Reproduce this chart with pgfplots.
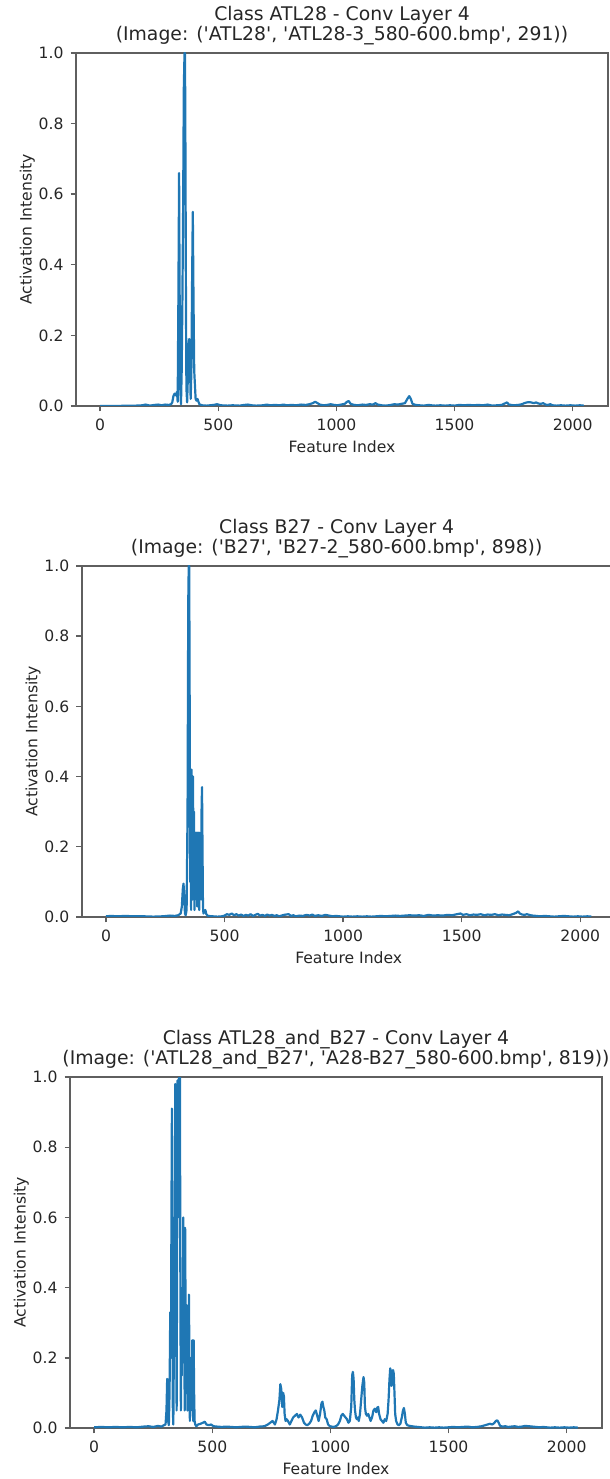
\documentclass[border=0pt]{standalone}
\usepackage{pgfplots}
\pgfplotsset{compat=1.18}
\usepackage{fontspec}
\setmainfont{DejaVu Sans}
\newfontfamily\dv{DejaVu Sans}
\definecolor{czero}{RGB}{31,119,180}
\definecolor{spine}{RGB}{95,95,95}
\pgfplotsset{
  myax/.style={
    scale only axis,
    anchor=south west,
    xmin=-102.35, xmax=2149.35, ymin=0, ymax=1,
    axis line style={draw=spine, line width=0.8pt},
    every tick/.style={draw=spine, line width=0.7pt},
    major tick length=2.7pt,
    tick align=outside,
    xtick pos=bottom, ytick pos=left,
    xtick={0,500,1000,1500,2000},
    ytick={0,0.2,0.4,0.6,0.8,1.0},
    scaled x ticks=false, scaled y ticks=false,
    /pgf/number format/assume math mode=true,
    /pgf/number format/1000 sep={},
    yticklabel style={/pgf/number format/.cd, fixed, fixed zerofill, precision=1},
    tick label style={font=\fontsize{7.8}{9}\selectfont, text=black!85},
    label style={font=\fontsize{7.8}{9}\selectfont, text=black!85},
    xlabel={Feature Index},
    ylabel={Activation Intensity},
    xlabel style={yshift=1.5pt},
    ylabel style={yshift=-5pt},
    title style={font=\dv\fontsize{9.4}{10}\selectfont, text=black!85, align=center, at={(0.5,1)}, anchor=south, inner sep=0pt, yshift=-2pt},
    clip=true,
  },
  myline/.style={color=czero, line width=1.1pt, line join=round, mark=none},
}
\begin{document}
\begin{tikzpicture}
\useasboundingbox (0,0) rectangle (305pt,739.5pt);
\begin{axis}[myax, at={(38pt,536.5pt)}, width=266pt, height=176.5pt,
  title={Class ATL28 - Conv Layer 4\\(Image: (\dv'ATL28', 'ATL28-3\_580-600.bmp', 291))}]
\addplot[myline] table {
0 0
50 0
100 0.0005
150 0.001
180 0.002
190 0.004
200 0.003
210 0.001
230 0.003
245 0.004
260 0.002
275 0.004
290 0.003
300 0.005
305 0.01
310 0.028
315 0.035
320 0.03
325 0.04
328 0.012
331 0.3
334 0.66
336 0.35
339 0.05
342 0.005
345 0.1
348 0.3
351 0.55
354 0.9
357 1.0
359 1.0
361 0.7
363 0.3
365 0.05
368 0.01
371 0.08
374 0.17
377 0.19
380 0.12
383 0.02
386 0.1
389 0.35
392 0.55
395 0.3
398 0.1
401 0.06
404 0.02
408 0.015
412 0.02
416 0.012
420 0.005
430 0.002
450 0.001
480 0.003
495 0.005
510 0.002
540 0.001
560 0.002
590 0.001
610 0.003
625 0.004
640 0.002
660 0.001
690 0.002
705 0.004
720 0.002
740 0.003
760 0.002
775 0.004
790 0.002
810 0.003
830 0.002
850 0.004
870 0.003
885 0.005
900 0.008
910 0.012
920 0.008
930 0.004
945 0.002
960 0.003
975 0.005
990 0.003
1005 0.002
1020 0.004
1035 0.006
1045 0.012
1052 0.014
1060 0.006
1075 0.003
1090 0.002
1110 0.004
1125 0.003
1140 0.005
1155 0.004
1165 0.008
1175 0.004
1190 0.002
1210 0.001
1230 0.003
1245 0.005
1260 0.004
1275 0.006
1290 0.008
1300 0.02
1308 0.028
1315 0.02
1322 0.006
1335 0.003
1350 0.002
1370 0.001
1390 0.003
1400 0.002
1420 0.001
1440 0.002
1460 0.001
1480 0.002
1500 0.001
1520 0.003
1540 0.002
1560 0.003
1580 0.002
1600 0.003
1620 0.002
1640 0.004
1660 0.001
1680 0.002
1700 0.003
1715 0.008
1722 0.01
1730 0.004
1750 0.002
1770 0.003
1785 0.005
1795 0.008
1805 0.01
1815 0.011
1825 0.01
1835 0.008
1845 0.01
1855 0.007
1865 0.006
1875 0.008
1885 0.004
1895 0.003
1905 0.005
1915 0.002
1930 0.001
1950 0.002
1970 0.001
1990 0.002
2010 0.001
2030 0.002
2047 0.001
};
\end{axis}
\begin{axis}[myax, at={(40.85pt,281pt)}, width=267pt, height=175.5pt,
  title style={xshift=-6pt},
  title={Class B27 - Conv Layer 4\\(Image: (\dv'B27', 'B27-2\_580-600.bmp', 898))}]
\addplot[myline] table {
0 0.002
20 0.003
50 0.002
80 0.003
120 0.002
160 0.002
200 0.001
240 0.002
270 0.004
290 0.003
305 0.005
315 0.01
320 0.03
324 0.08
327 0.095
330 0.06
333 0.01
336 0.005
340 0.02
344 0.3
347 0.9
349 1.0
351 1.0
353 0.6
355 0.1
357 0.33
359 0.02
361 0.42
363 0.3
365 0.05
367 0.4
369 0.1
371 0.3
373 0.02
375 0.24
377 0.05
379 0.24
381 0.1
383 0.24
385 0.03
387 0.24
389 0.15
391 0.24
393 0.02
395 0.24
397 0.1
399 0.2
401 0.05
403 0.3
405 0.37
407 0.2
409 0.03
411 0.01
415 0.015
419 0.02
423 0.008
430 0.003
450 0.002
470 0.001
490 0.002
500 0.004
510 0.008
520 0.006
530 0.01
540 0.005
550 0.008
560 0.004
570 0.007
580 0.003
590 0.006
600 0.004
610 0.008
620 0.003
630 0.006
640 0.009
650 0.004
660 0.006
670 0.003
680 0.007
690 0.004
700 0.006
710 0.003
720 0.005
730 0.002
740 0.004
750 0.006
760 0.007
770 0.008
780 0.003
790 0.005
800 0.002
815 0.004
830 0.003
845 0.006
860 0.004
870 0.007
880 0.003
895 0.005
910 0.003
925 0.006
940 0.004
955 0.002
970 0.003
985 0.002
1000 0.001
1020 0.002
1040 0.001
1060 0.002
1080 0.001
1100 0.002
1120 0.001
1140 0.002
1160 0.003
1180 0.002
1200 0.003
1220 0.004
1240 0.003
1260 0.004
1280 0.005
1300 0.004
1320 0.005
1340 0.003
1360 0.006
1380 0.004
1400 0.005
1420 0.004
1440 0.006
1460 0.005
1480 0.008
1495 0.01
1505 0.006
1520 0.008
1535 0.005
1550 0.007
1565 0.006
1580 0.008
1595 0.005
1610 0.007
1625 0.006
1640 0.008
1655 0.005
1670 0.007
1685 0.006
1700 0.005
1715 0.008
1730 0.012
1738 0.016
1745 0.01
1755 0.007
1765 0.006
1775 0.008
1790 0.005
1800 0.004
1815 0.003
1830 0.002
1850 0.003
1870 0.002
1890 0.001
1910 0.002
1930 0.003
1950 0.002
1970 0.001
1990 0.002
2010 0.001
2030 0.002
2047 0.001
};
\end{axis}
\begin{axis}[myax, at={(35pt,25.5pt)}, width=266pt, height=175.5pt,
  title={Class ATL28\_and\_B27 - Conv Layer 4\\(Image: (\dv'ATL28\_and\_B27', 'A28-B27\_580-600.bmp', 819))}]
\addplot[myline] table {
0 0.002
30 0.003
60 0.002
90 0.003
120 0.002
150 0.003
180 0.002
210 0.004
230 0.005
250 0.003
270 0.006
285 0.004
295 0.008
302 0.01
306 0.05
309 0.14
311 0.13
313 0.02
316 0.008
319 0.1
322 0.33
325 0.2
327 0.6
329 0.91
331 0.5
333 0.05
335 0.01
337 0.2
339 0.6
341 0.4
343 0.98
345 0.96
347 0.3
349 0.05
351 0.5
353 0.99
355 0.6
357 0.98
359 1.0
361 0.7
363 1.0
365 0.35
367 0.05
369 0.3
371 0.15
373 0.4
375 0.25
377 0.6
379 0.2
381 0.45
383 0.05
385 0.57
387 0.3
389 0.1
391 0.35
393 0.2
395 0.05
397 0.3
399 0.1
401 0.38
403 0.2
405 0.02
407 0.15
409 0.05
411 0.2
413 0.08
415 0.25
417 0.1
419 0.02
421 0.25
423 0.1
425 0.02
428 0.01
432 0.005
440 0.01
450 0.012
460 0.015
468 0.018
475 0.01
485 0.008
495 0.01
505 0.005
520 0.004
540 0.003
560 0.004
580 0.003
600 0.002
620 0.003
640 0.004
660 0.003
680 0.002
700 0.004
720 0.005
735 0.01
745 0.015
755 0.02
765 0.01
772 0.025
778 0.05
784 0.08
788 0.125
792 0.11
796 0.06
800 0.1
803 0.09
806 0.04
810 0.02
815 0.025
820 0.02
828 0.01
835 0.02
842 0.03
850 0.035
858 0.04
865 0.03
872 0.038
880 0.03
888 0.015
895 0.01
902 0.008
910 0.012
918 0.02
925 0.035
932 0.045
938 0.05
944 0.035
950 0.02
956 0.04
962 0.07
966 0.075
970 0.06
974 0.05
978 0.03
984 0.025
990 0.01
998 0.005
1005 0.004
1015 0.003
1025 0.006
1032 0.01
1040 0.02
1046 0.035
1052 0.04
1058 0.035
1064 0.03
1070 0.025
1076 0.015
1082 0.02
1088 0.06
1092 0.15
1095 0.16
1098 0.14
1101 0.08
1104 0.05
1108 0.03
1112 0.025
1116 0.03
1120 0.02
1125 0.04
1130 0.08
1135 0.12
1140 0.145
1143 0.13
1146 0.06
1150 0.04
1155 0.035
1160 0.04
1165 0.03
1170 0.02
1176 0.03
1182 0.05
1188 0.055
1194 0.045
1198 0.058
1202 0.06
1206 0.04
1212 0.025
1218 0.02
1224 0.015
1230 0.025
1236 0.02
1242 0.04
1246 0.08
1250 0.14
1253 0.17
1256 0.16
1259 0.12
1262 0.16
1265 0.165
1268 0.155
1271 0.1
1274 0.04
1278 0.02
1284 0.01
1290 0.008
1296 0.012
1302 0.03
1307 0.05
1311 0.057
1315 0.04
1319 0.015
1325 0.008
1335 0.006
1345 0.005
1355 0.004
1370 0.003
1385 0.002
1400 0.001
1420 0.002
1440 0.001
1460 0.002
1480 0.001
1500 0.002
1520 0.003
1540 0.002
1560 0.003
1580 0.004
1600 0.002
1620 0.003
1640 0.005
1655 0.008
1665 0.01
1675 0.012
1685 0.01
1693 0.014
1700 0.02
1706 0.022
1712 0.015
1718 0.006
1728 0.004
1740 0.005
1752 0.003
1765 0.004
1780 0.005
1795 0.003
1810 0.004
1825 0.006
1840 0.005
1855 0.004
1870 0.003
1885 0.002
1900 0.003
1915 0.002
1930 0.001
1950 0.002
1970 0.001
1990 0.002
2010 0.001
2030 0.002
2047 0.001
};
\end{axis}
\end{tikzpicture}
\end{document}
